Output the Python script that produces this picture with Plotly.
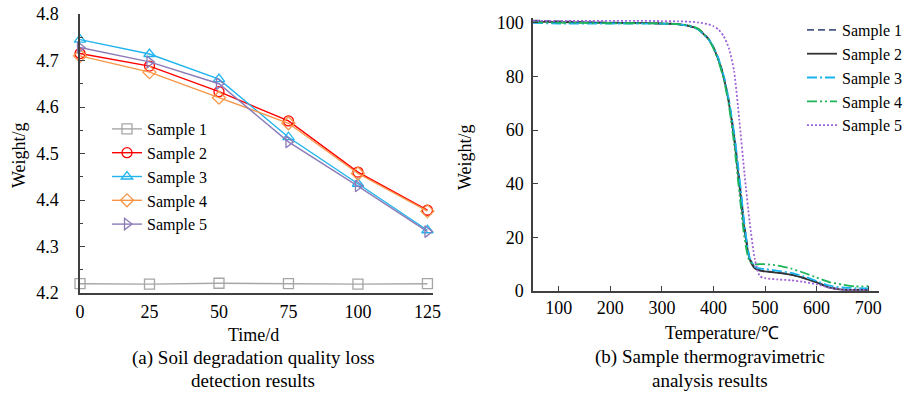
import plotly.graph_objects as go

W, H = 919, 394
FONT = "Liberation Serif, Times New Roman, serif"

# ---------- (a) soil degradation quality loss ----------
time_d = [0, 25, 50, 75, 100, 125]
a_s1 = [4.22, 4.219, 4.221, 4.22, 4.219, 4.22]
a_s2 = [4.715, 4.688, 4.633, 4.570, 4.460, 4.378]
a_s3 = [4.745, 4.714, 4.660, 4.535, 4.435, 4.335]
a_s4 = [4.710, 4.675, 4.620, 4.565, 4.457, 4.376]
a_s5 = [4.728, 4.697, 4.650, 4.525, 4.430, 4.332]
a_names = ["Sample 1", "Sample 2", "Sample 3", "Sample 4", "Sample 5"]
a_colors = ["#A6A6A6", "#FF0000", "#1FB4EE", "#F79646", "#8C7BB8"]
a_symbols = ["square-open", "circle-open", "triangle-up-open", "diamond-open", "triangle-right-open"]

# ---------- (b) thermogravimetric analysis ----------
temp_c = [50, 100, 150, 200, 250, 300, 330, 350, 370, 390, 400, 410, 420, 430, 440,
          450, 460, 470, 480, 490, 500, 525, 550, 575, 600, 625, 650, 675, 700]
b_s1 = [100.9, 100.6, 100.3, 100.1, 100.0, 99.8, 99.6, 99.0, 97.8, 94.2, 91.0, 86.5, 80.0, 70.8, 58.5,
        42.0, 24.5, 12.5, 8.8, 7.8, 7.4, 6.9, 6.1, 4.9, 3.3, 1.4, 0.6, 0.5, 0.5]
b_s2 = [100.5, 100.3, 100.2, 100.0, 100.0, 99.8, 99.6, 99.0, 97.7, 94.0, 90.7, 86.0, 79.5, 70.0, 57.0,
        40.0, 23.0, 12.0, 8.5, 7.6, 7.3, 6.8, 6.1, 4.8, 3.2, 1.3, 0.5, 0.4, 0.4]
b_s3 = [100.0, 99.8, 99.8, 99.8, 99.8, 99.7, 99.5, 99.0, 97.6, 94.0, 91.0, 86.5, 80.2, 71.0, 59.0,
        43.0, 25.0, 12.5, 9.0, 8.4, 8.2, 7.5, 6.8, 5.5, 3.7, 2.0, 1.3, 1.1, 1.0]
b_s4 = [100.3, 100.1, 100.0, 99.9, 99.9, 99.8, 99.6, 99.2, 97.9, 94.0, 90.5, 85.5, 79.0, 69.0, 55.0,
        37.0, 20.0, 11.0, 10.0, 10.0, 10.0, 9.5, 8.4, 6.8, 5.0, 3.3, 2.4, 1.7, 1.8]
b_s5 = [100.8, 100.8, 100.8, 100.8, 100.8, 100.7, 100.6, 100.5, 100.2, 99.5, 98.8, 97.5, 95.0, 90.5, 82.0,
        64.0, 44.0, 26.0, 12.0, 5.5, 4.8, 4.3, 4.0, 3.4, 2.5, 1.2, 0.5, 0.4, 0.4]
b_names = ["Sample 1", "Sample 2", "Sample 3", "Sample 4", "Sample 5"]
b_colors = ["#4A5A86", "#333333", "#19B4F0", "#1DB45A", "#A064D8"]
b_dashes = ["7px,4px", "solid", "10px,3px,2px,3px", "10px,3px,2px,3px,2px,3px", "2px,2px"]

fig = go.Figure()

for ys, nm, c, s in zip([a_s1, a_s2, a_s3, a_s4, a_s5], a_names, a_colors, a_symbols):
    fig.add_trace(go.Scatter(
        x=time_d, y=ys, name=nm, mode="lines+markers",
        line=dict(color=c, width=1.4),
        marker=dict(symbol=s, size=10, color=c, line=dict(color=c, width=1.3)),
        cliponaxis=False, xaxis="x", yaxis="y", legend="legend"))

for ys, nm, c, d in zip([b_s1, b_s2, b_s3, b_s4, b_s5], b_names, b_colors, b_dashes):
    fig.add_trace(go.Scatter(
        x=temp_c, y=ys, name=nm, mode="lines",
        line=dict(color=c, width=1.8, dash=d, shape="spline", smoothing=0.6),
        xaxis="x2", yaxis="y2", legend="legend2"))


def px(x):
    return x / W


def py(y):
    return 1 - y / H


FS = 18
LFS = 16
CFS = 19
axis_common = dict(
    showgrid=False, zeroline=False, showline=True, linecolor="#404040", linewidth=1.5,
    tickfont=dict(family=FONT, size=FS, color="#000000"), ticks="inside",
    tickcolor="#404040", ticklen=5, tickwidth=1.2, mirror=False, automargin=False,
)

fig.update_layout(
    width=W, height=H, autosize=False,
    margin=dict(l=0, r=0, t=0, b=0, autoexpand=False),
    paper_bgcolor="white", plot_bgcolor="white",
    font=dict(family=FONT, size=FS, color="#000000"),
    xaxis=dict(axis_common, domain=[px(80), px(433)], range=[0, 127],
               tickvals=time_d, ticks="", ticklabelstandoff=2, anchor="y"),
    yaxis=dict(axis_common, domain=[py(293), py(14)], range=[4.2, 4.8],
               dtick=0.1, tickformat=".1f", ticklabelstandoff=16, anchor="x",
               minor=dict(ticks="inside", dtick=0.05, ticklen=3, tickcolor="#404040")),
    xaxis2=dict(axis_common, domain=[px(533), px(879)], range=[50, 721],
                tickvals=[100, 200, 300, 400, 500, 600, 700], ticklabelstandoff=0, anchor="y2"),
    yaxis2=dict(axis_common, domain=[py(291), py(17.6)], range=[0, 102],
                tickvals=[0, 20, 40, 60, 80, 100], ticklabelstandoff=4, anchor="x2"),
    legend=dict(x=px(107), y=py(112), xanchor="left", yanchor="top",
                bgcolor="rgba(0,0,0,0)", font=dict(family=FONT, size=LFS),
                tracegroupgap=0),
    legend2=dict(x=px(802), y=py(13), xanchor="left", yanchor="top",
                 bgcolor="rgba(0,0,0,0)", font=dict(family=FONT, size=LFS),
                 tracegroupgap=0),
    showlegend=True,
)

ann = [
    dict(text="Weight/g", x=px(19), y=py(155), textangle=-90, size=FS),
    dict(text="Weight/g", x=px(465), y=py(157), textangle=-90, size=FS),
    dict(text="Time/d", x=px(253), y=py(335), size=FS),
    dict(text="(a) Soil degradation quality loss", x=px(253), y=py(358), size=CFS),
    dict(text="detection results", x=px(253), y=py(380), size=CFS),
    dict(text="Temperature/℃", x=px(722), y=py(333), size=FS),
    dict(text="(b) Sample thermogravimetric", x=px(710), y=py(357), size=CFS),
    dict(text="analysis results", x=px(710), y=py(380), size=CFS),
]
for a in ann:
    sz = a.pop("size")
    fig.add_annotation(xref="paper", yref="paper", showarrow=False,
                       xanchor="center", yanchor="middle",
                       font=dict(family=FONT, size=sz, color="#000000"), **a)

fig.write_html("out.html", config={"displayModeBar": False},
               post_script="document.body.style.margin='0px';document.body.style.padding='0px';")
